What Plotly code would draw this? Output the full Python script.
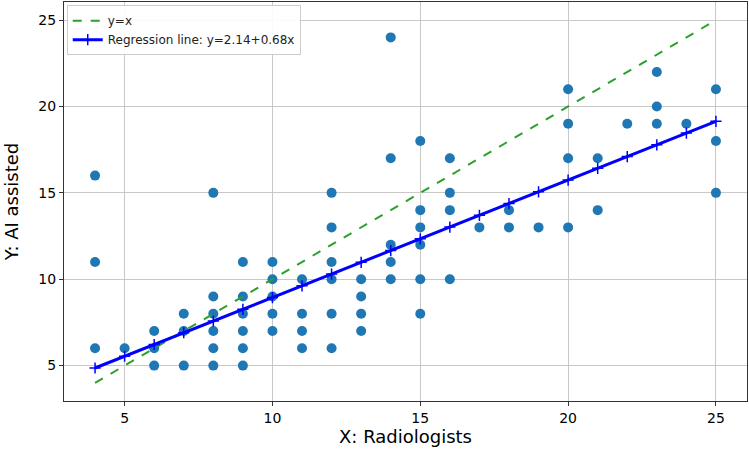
import plotly.graph_objects as go

# Data
radiologists = [4, 4, 4, 5, 6, 6, 6, 7, 7, 7,
                8, 8, 8, 8, 8, 8, 9, 9, 9, 9, 9, 9,
                10, 10, 10, 10, 10, 11, 11, 11, 11,
                12, 12, 12, 12, 12, 12, 13, 13, 13, 13,
                14, 14, 14, 14, 14, 15, 15, 15, 15, 15, 15,
                16, 16, 16, 16, 17, 18, 18, 19,
                20, 20, 20, 20, 21, 21, 22, 23, 23, 23, 24,
                25, 25, 25]
ai_assisted = [16, 11, 6, 6, 7, 6, 5, 8, 7, 5,
               15, 9, 8, 7, 6, 5, 11, 9, 8, 7, 6, 5,
               11, 10, 9, 8, 7, 10, 8, 7, 6,
               15, 13, 11, 10, 8, 6, 10, 9, 8, 7,
               24, 17, 12, 11, 10, 18, 14, 13, 12, 10, 8,
               17, 15, 14, 10, 13, 14, 13, 13,
               21, 19, 17, 13, 17, 14, 19, 22, 20, 19, 19,
               21, 18, 15]

intercept = 2.14
slope = 0.68
reg_x = sorted(set(radiologists))
reg_y = [intercept + slope * v for v in reg_x]
ident_x = [min(radiologists), max(radiologists)]

x_ticks = [5, 10, 15, 20, 25]
y_ticks = [5, 10, 15, 20, 25]

fig = go.Figure()
fig.add_trace(go.Scatter(
    x=radiologists, y=ai_assisted, mode="markers",
    marker=dict(color="#1f77b4", size=10, line=dict(width=0)),
    showlegend=False, hoverinfo="x+y"))
fig.add_trace(go.Scatter(
    x=ident_x, y=ident_x, mode="lines", name="y=x",
    line=dict(color="#2ca02c", width=2, dash="dash")))
fig.add_trace(go.Scatter(
    x=reg_x, y=reg_y, mode="lines+markers",
    name=f"Regression line: y={intercept}+{slope}x",
    line=dict(color="#0000ff", width=3),
    marker=dict(symbol="cross-thin", size=8, color="#0000ff",
                line=dict(color="#0000ff", width=1.5))))

axis_common = dict(
    showgrid=True, gridcolor="#c8c8c8", gridwidth=1,
    showline=True, linecolor="#333333", linewidth=1.2, mirror=True,
    ticks="outside", ticklen=4, tickcolor="#333333", zeroline=False,
    automargin=False,
    tickfont=dict(size=14, color="black", family="DejaVu Sans"),
)

fig.update_xaxes(range=[2.95, 26.05], tickvals=x_ticks,
                 title=dict(text="X: Radiologists", font=dict(size=18, color="black", family="DejaVu Sans"), standoff=5),
                 **axis_common)
fig.update_yaxes(range=[2.95, 26.05], tickvals=y_ticks,
                 title=dict(text="Y: AI assisted", font=dict(size=18, color="black", family="DejaVu Sans"), standoff=14),
                 **axis_common)

fig.update_layout(
    width=749, height=458,
    margin=dict(l=64, r=2, t=2, b=57, autoexpand=False),
    plot_bgcolor="white", paper_bgcolor="white",
    font=dict(family="DejaVu Sans", color="black"),
    legend=dict(x=0.004, y=0.992, xanchor="left", yanchor="top",
                bgcolor="rgba(255,255,255,0.9)", bordercolor="#cccccc", borderwidth=1,
                font=dict(size=12, color="#222222"), tracegroupgap=0,
                itemwidth=30),
)

fig.write_html("out.html", config={"displayModeBar": False},
               post_script="document.body.style.margin='0';document.body.style.overflow='hidden';")
